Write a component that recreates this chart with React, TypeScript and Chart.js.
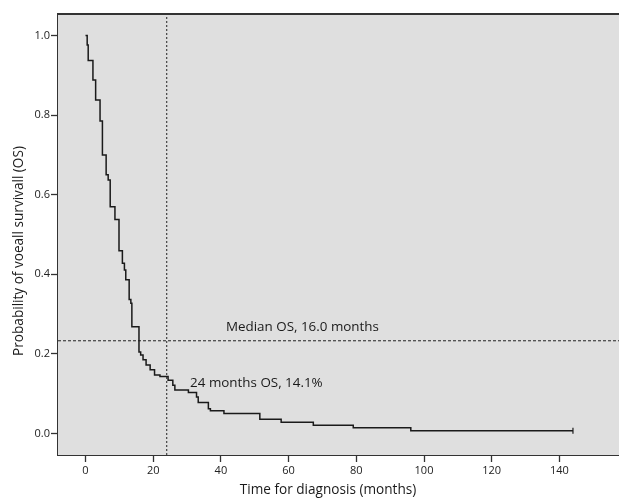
import React, { useEffect, useRef } from "react";
import { Chart, registerables } from "chart.js";
Chart.register(...registerables);

// Kaplan-Meier curve: event times (months) and survival after each event
const times = [0, 0.5, 0.8, 2.2, 3.0, 4.3, 5.0, 6.1, 6.7, 7.3, 8.7, 9.9, 10.9, 11.5, 11.9, 12.9, 13.4, 13.7, 15.8, 16.3, 17.0, 17.9, 19.1, 20.4, 22.0, 24.4, 25.8, 26.4, 30.4, 32.8, 33.3, 36.3, 36.9, 40.9, 51.5, 57.8, 67.3, 79.1, 96.1, 144];
const survival = [1.0, 0.976, 0.937, 0.888, 0.838, 0.785, 0.70, 0.65, 0.637, 0.57, 0.538, 0.459, 0.428, 0.411, 0.386, 0.337, 0.327, 0.268, 0.205, 0.197, 0.185, 0.172, 0.16, 0.147, 0.143, 0.134, 0.121, 0.109, 0.103, 0.092, 0.078, 0.062, 0.057, 0.0505, 0.036, 0.028, 0.021, 0.0146, 0.007, 0.007];

const xTicks = [0, 20, 40, 60, 80, 100, 120, 140];
const yTicks = [0.0, 0.2, 0.4, 0.6, 0.8, 1.0];
const xRange = [-8.12, 157.6];
const yRange = [-0.054, 1.054];

const medianLevel = 0.233;
const landmarkMonth = 24;

const medianLabel = "Median OS, 16.0 months";
const landmarkLabel = "24 months OS, 14.1%";
const xTitle = "Time for diagnosis (months)";
const yTitle = "Probability of voeall survivall (OS)";

const FONT = "'Open Sans', 'DejaVu Sans', sans-serif";

export default function App() {
  const ref = useRef<HTMLCanvasElement | null>(null);
  useEffect(() => {
    if (!ref.current) return;
    const decor = {
      id: "decor",
      beforeDatasetsDraw(chart: any) {
        const { ctx, chartArea: a } = chart;
        ctx.save();
        ctx.fillStyle = "#dfdfdf";
        ctx.fillRect(a.left, a.top, a.right - a.left, a.bottom - a.top);
        ctx.restore();
      },
      afterDraw(chart: any) {
        const { ctx, chartArea: a, scales } = chart;
        const sx = scales.x, sy = scales.y;
        ctx.save();
        ctx.strokeStyle = "#333";
        ctx.lineWidth = 2;
        ctx.beginPath();
        ctx.moveTo(a.left - 1, a.top);
        ctx.lineTo(a.right, a.top);
        ctx.stroke();
        ctx.fillStyle = "#1a1a1a";
        ctx.font = `13.4px ${FONT}`;
        ctx.textAlign = "left";
        ctx.textBaseline = "middle";
        ctx.fillText(medianLabel, sx.getPixelForValue(41.5), sy.getPixelForValue(0.268));
        ctx.fillText(landmarkLabel, sx.getPixelForValue(30.9), sy.getPixelForValue(0.126));
        ctx.font = `13.6px ${FONT}`;
        ctx.textAlign = "center";
        ctx.fillText(xTitle, 328, 490);
        ctx.translate(19, 251);
        ctx.rotate(-Math.PI / 2);
        ctx.fillText(yTitle, 0, 0);
        ctx.restore();
      },
    };
    const chart = new Chart(ref.current, {
      type: "scatter",
      data: {
        datasets: [
          {
            data: times.map((t, i) => ({ x: t, y: survival[i] })),
            showLine: true,
            stepped: true,
            borderColor: "#1a1a1a",
            borderWidth: 1.5,
            pointRadius: times.map((_, i) => (i === times.length - 1 ? 3 : 0)),
            pointStyle: "line",
            rotation: 90,
            pointBorderColor: "#1a1a1a",
            pointBorderWidth: 1.2,
          },
          {
            data: [
              { x: landmarkMonth, y: yRange[0] },
              { x: landmarkMonth, y: yRange[1] },
            ],
            showLine: true,
            borderColor: "#222",
            borderWidth: 1,
            borderDash: [2, 2],
            pointRadius: 0,
          },
          {
            data: [
              { x: xRange[0], y: medianLevel },
              { x: xRange[1], y: medianLevel },
            ],
            showLine: true,
            borderColor: "#222",
            borderWidth: 1,
            borderDash: [3, 2],
            pointRadius: 0,
          },
        ],
      },
      options: {
        animation: false,
        responsive: false,
        layout: { autoPadding: false, padding: { left: 0, top: 14, right: 0, bottom: 0 } },
        plugins: { legend: { display: false }, tooltip: { enabled: false } },
        scales: {
          x: {
            type: "linear",
            min: xRange[0],
            max: xRange[1],
            afterFit: (s: any) => { s.height = 47; s.paddingRight = 0; s.paddingLeft = 0; },
            afterBuildTicks: (s: any) => { s.ticks = xTicks.map((v) => ({ value: v })); },
            grid: { drawOnChartArea: false, drawTicks: true, tickLength: 7, color: "#333", tickWidth: 1.3 },
            border: { display: true, color: "#333", width: 2 },
            ticks: { color: "#222", padding: 2, font: { size: 11, family: FONT }, callback: (v: any) => String(v), maxRotation: 0 },
          },
          y: {
            type: "linear",
            min: yRange[0],
            max: yRange[1],
            afterFit: (s: any) => { s.width = 58; s.paddingTop = 0; s.paddingBottom = 0; },
            afterBuildTicks: (s: any) => { s.ticks = yTicks.map((v) => ({ value: v })); },
            grid: { drawOnChartArea: false, drawTicks: true, tickLength: 7, color: "#333", tickWidth: 1.3 },
            border: { display: true, color: "#333", width: 2 },
            ticks: { color: "#222", padding: 1, font: { size: 11, family: FONT }, callback: (v: any) => Number(v).toFixed(1) },
          },
        },
      },
      plugins: [decor],
    });
    return () => chart.destroy();
  }, []);
  return (
    <div style={{ position: "absolute", left: 0, top: 0, width: 619, height: 502, background: "#fff" }}>
      <canvas ref={ref} width={619} height={502} style={{ width: 619, height: 502 }} />
    </div>
  );
}
